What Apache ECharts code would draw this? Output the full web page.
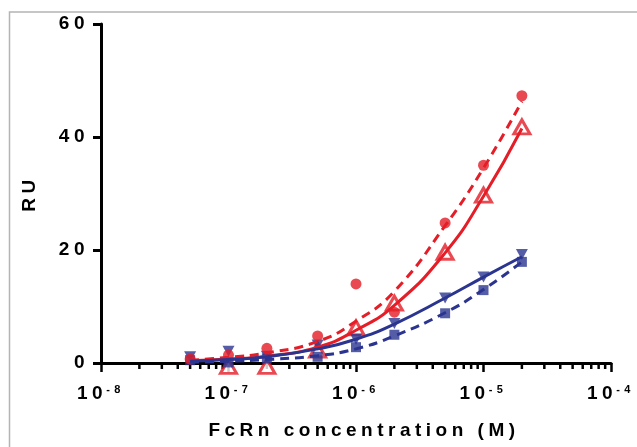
<!DOCTYPE html>
<html>
<head>
<meta charset="utf-8">
<style>
  html, body { margin: 0; padding: 0; background: #fff; }
  #main { width: 637px; height: 447px; }
</style>
<script src="https://cdn.jsdelivr.net/npm/echarts@6/dist/echarts.min.js"></script>
</head>
<body>
<div id="main"></div>
<script>
// FcRn concentrations (M)
var conc = [5e-8, 1e-7, 2e-7, 5e-7, 1e-6, 2e-6, 5e-6, 1e-5, 2e-5];

// measured points (RU)
var redCircles    = [0.7, 1.4, 2.6, 4.8, 14.0, 9.0, 24.8, 35.0, 47.3];
var redTriangles  = [null, -0.6, -0.6, 2.3, 6.2, 10.6, 19.6, 29.7, 41.8];
var blueTriangles = [1.1, 2.1, 1.2, 3.2, 4.2, 7.0, 11.5, 15.2, 19.2];
var blueSquares   = [0.5, 0.1, 0.8, 1.1, 2.8, 5.0, 8.8, 12.9, 17.9];

// fitted curves at the same concentrations
var redDashFit   = [0.5, 1.0, 1.8, 3.8, 7.4, 12.7, 24.3, 34.5, 46.3];
var redSolidFit  = [0.4, 0.7, 1.2, 2.8, 5.8, 10.2, 19.5, 29.5, 41.5];
var blueSolidFit = [0.3, 0.6, 1.1, 2.5, 4.2, 6.9, 11.5, 15.2, 18.8];
var blueDashFit  = [0.15, 0.3, 0.6, 1.3, 2.5, 4.8, 8.9, 13.0, 17.9];

// minor log ticks
var decades = [1e-8, 1e-7, 1e-6, 1e-5];
var minorSteps = [2, 3, 4, 5, 6, 7, 8, 9];

var RED = '#e41d27';
var BLUE = '#2b3590';
var FONT = '"Liberation Sans", Arial, sans-serif';

function pairs(ys) {
  var out = [];
  conc.forEach(function (c, i) {
    if (ys[i] !== null) out.push([c, ys[i]]);
  });
  return out;
}

var minorTicks = [];
decades.forEach(function (d) {
  minorSteps.forEach(function (m) { minorTicks.push([d * m, 0]); });
});

function fitLine(name, ys, color, dashed) {
  return {
    name: name,
    type: 'line',
    data: pairs(ys),
    smooth: true,
    showSymbol: false,
    symbol: 'none',
    silent: true,
    lineStyle: { color: color, width: 3, type: dashed ? [9, 6] : 'solid' }
  };
}

function points(name, ys, symbol, size, style, rotate) {
  return {
    name: name,
    type: 'scatter',
    data: pairs(ys),
    symbol: symbol,
    symbolSize: size,
    symbolRotate: rotate || 0,
    clip: false,
    itemStyle: style
  };
}

var option = {
  animation: false,
  backgroundColor: '#fff',
  grid: { left: 101, right: 26, top: 24, bottom: 84 },
  graphic: [
    {
      type: 'rect',
      shape: { x: 9.5, y: 12, width: 700, height: 600 },
      style: { fill: 'none', stroke: '#b4b4b4', lineWidth: 1.5 },
      silent: true
    }
  ],
  xAxis: {
    type: 'log',
    logBase: 10,
    min: 1e-8,
    max: 1e-4,
    name: 'FcRn concentration (M)',
    nameLocation: 'middle',
    nameGap: 58,
    nameTextStyle: {
      fontFamily: FONT, fontSize: 19, fontWeight: 'bold', color: '#000',
      padding: [0, 0, 0, 16]
    },
    axisLine: { show: true, lineStyle: { color: '#000', width: 3 } },
    axisTick: { show: true, length: 9, lineStyle: { color: '#000', width: 2.5 } },
    splitLine: { show: false },
    axisLabel: {
      margin: 21,
      formatter: function (v) {
        return '{b|10}{s|' + Math.round(Math.log10(v)) + '}';
      },
      rich: {
        b: { fontFamily: FONT, fontSize: 19, fontWeight: 'bold', color: '#000', lineHeight: 20 },
        s: {
          fontFamily: FONT, fontSize: 11, fontWeight: 'bold', color: '#000',
          lineHeight: 8, verticalAlign: 'top', padding: [0, 0, 0, 8]
        }
      }
    }
  },
  yAxis: {
    type: 'value',
    min: 0,
    max: 60,
    interval: 20,
    name: 'RU',
    nameLocation: 'middle',
    nameGap: 62,
    nameTextStyle: { fontFamily: FONT, fontSize: 19, fontWeight: 'bold', color: '#000' },
    axisLine: { show: true, lineStyle: { color: '#000', width: 3 } },
    axisTick: { show: true, length: 8, lineStyle: { color: '#000', width: 3 } },
    splitLine: { show: false },
    axisLabel: { margin: 12, fontFamily: FONT, fontSize: 19, fontWeight: 'bold', color: '#000' }
  },
  series: [
    {
      name: 'minor ticks',
      type: 'custom',
      data: minorTicks,
      clip: false,
      silent: true,
      renderItem: function (params, api) {
        var p = api.coord([api.value(0), 0]);
        return {
          type: 'line',
          shape: { x1: p[0], y1: p[1], x2: p[0], y2: p[1] + 6 },
          style: { stroke: '#000', lineWidth: 2.5 }
        };
      }
    },
    fitLine('fit circles', redDashFit, RED, true),
    fitLine('fit open triangles', redSolidFit, RED, false),
    fitLine('fit down triangles', blueSolidFit, BLUE, false),
    fitLine('fit squares', blueDashFit, BLUE, true),
    points('open triangles', redTriangles, 'triangle', [16, 14],
      { color: '#fff', borderColor: RED, borderWidth: 3 }),
    points('down triangles', blueTriangles, 'triangle', [12, 11], { color: BLUE }, 180),
    points('squares', blueSquares, 'rect', 10, { color: BLUE }),
    points('circles', redCircles, 'circle', 11, { color: RED })
  ]
};

var chart = echarts.init(document.getElementById('main'));
chart.setOption(option);

// the reference uses widely spaced lettering everywhere
Array.prototype.forEach.call(document.querySelectorAll('#main canvas'), function (c) {
  c.getContext('2d').letterSpacing = '4.5px';
});
chart.setOption(option, true);
</script>
</body>
</html>
